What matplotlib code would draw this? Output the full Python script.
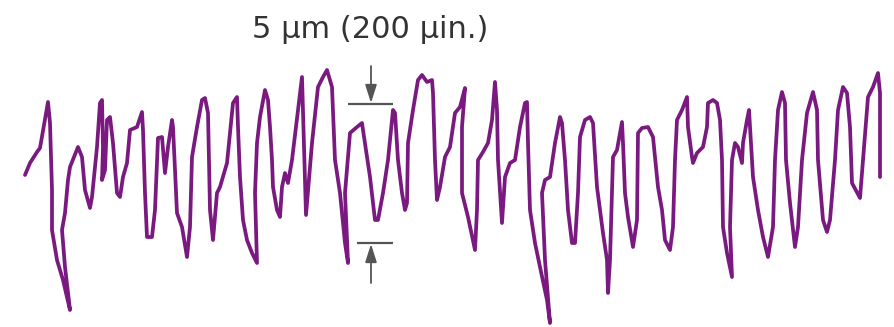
import matplotlib
matplotlib.use("Agg")
import matplotlib.pyplot as plt

# Surface profile trace: position along the traverse and profile height (trace units)
position = [25, 30, 37, 40, 48, 50, 52, 52, 57, 63, 70, 65, 62, 65, 68, 70, 78, 82, 85, 90,
            92, 97, 100, 102, 103, 102, 105, 107, 110, 113, 117, 120, 123, 127, 130, 137, 142, 143, 145, 147,
            152, 155, 158, 162, 165, 168, 172, 173, 177, 182, 187, 190, 192, 197, 202, 205, 208, 210, 213, 217,
            220, 227, 233, 237, 238, 240, 243, 247, 252, 257, 255, 257, 260, 265, 268, 270, 272, 273, 277, 280,
            282, 285, 288, 292, 298, 302, 306, 312, 318, 323, 327, 332, 335, 340, 345, 348, 345, 350, 357, 362,
            363, 370, 375, 378, 383, 388, 393, 395, 398, 402, 405, 407, 408, 413, 418, 422, 427, 432, 433, 435,
            437, 440, 445, 450, 455, 460, 465, 462, 462, 468, 475, 477, 478, 483, 488, 492, 495, 497, 498, 502,
            505, 510, 515, 520, 525, 527, 528, 530, 535, 540, 547, 550, 545, 542, 545, 550, 555, 560, 562, 565,
            568, 572, 575, 578, 580, 585, 590, 593, 597, 603, 607, 608, 610, 612, 613, 617, 622, 623, 625, 628,
            633, 637, 638, 642, 648, 653, 658, 662, 665, 670, 673, 675, 677, 682, 687, 688, 692, 693, 697, 703,
            707, 708, 713, 717, 720, 722, 723, 727, 732, 730, 732, 735, 738, 742, 743, 747, 749, 751, 753, 758,
            763, 768, 773, 775, 778, 782, 785, 786, 790, 795, 798, 802, 807, 813, 817, 818, 823, 827, 830, 835,
            838, 843, 847, 850, 852, 860, 863, 868, 873, 878, 880, 880]
height = [152, 164, 175, 179, 225, 204, 137, 97, 67, 47, 17, 60, 97, 114, 147, 160, 180, 170, 137, 119,
          130, 180, 224, 227, 180, 147, 157, 207, 210, 184, 134, 130, 150, 164, 197, 200, 215, 197, 134, 90,
          90, 117, 189, 190, 154, 180, 207, 200, 114, 100, 70, 100, 170, 200, 227, 229, 214, 117, 87, 134,
          140, 164, 224, 230, 200, 150, 107, 87, 74, 64, 134, 184, 210, 237, 227, 200, 167, 140, 117, 110,
          140, 154, 144, 167, 217, 250, 112, 184, 240, 250, 257, 240, 167, 134, 84, 64, 134, 194, 200, 204,
          197, 150, 107, 107, 134, 167, 217, 214, 167, 134, 117, 124, 184, 217, 247, 252, 245, 247, 234, 167,
          127, 140, 170, 180, 214, 220, 239, 200, 134, 110, 77, 117, 167, 175, 184, 207, 245, 217, 167, 104,
          150, 164, 167, 200, 224, 225, 184, 117, 84, 60, 27, 4, 67, 134, 147, 150, 184, 210, 204, 167,
          117, 84, 84, 134, 190, 207, 210, 204, 140, 94, 67, 34, 67, 134, 170, 177, 205, 184, 134, 110,
          80, 107, 194, 199, 200, 190, 140, 117, 87, 77, 100, 167, 207, 217, 230, 200, 170, 164, 174, 180,
          200, 224, 227, 224, 207, 167, 100, 74, 50, 100, 167, 184, 180, 164, 184, 207, 217, 184, 150, 117,
          90, 70, 100, 167, 217, 235, 224, 167, 124, 80, 100, 167, 214, 235, 217, 167, 107, 95, 107, 167,
          217, 240, 234, 200, 144, 129, 167, 230, 240, 254, 234, 150]

# Reference levels of the 5 µm scale marker
scale_top = 223
scale_bottom = 84
scale_label = "5 µm (200 µin.)"

fig = plt.figure(figsize=(8.94, 3.27), dpi=100)
ax = fig.add_axes([0, 0, 1, 1])
ax.set_xlim(0, 894)
ax.set_ylim(0, 327)
ax.axis("off")

ax.plot(position, height, color="#7a1a80", lw=2.7, solid_joinstyle="round",
        solid_capstyle="round")

grey = "#555555"
ax.hlines(scale_top, 348, 393, color=grey, lw=1.6)
ax.hlines(scale_bottom, 357, 393, color=grey, lw=1.6)
arrow = dict(arrowstyle="-|>,head_length=1.1,head_width=0.35", color=grey, lw=1.3,
             shrinkA=0, shrinkB=0)
ax.annotate("", xy=(371, scale_top + 1), xytext=(371, scale_top + 38), arrowprops=arrow)
ax.annotate("", xy=(371, scale_bottom - 1), xytext=(371, scale_bottom - 40), arrowprops=arrow)

ax.text(370, 297, scale_label, ha="center", va="center", fontsize=22,
        family="DejaVu Sans", color="#333333")

fig.savefig("out.png", dpi=100)
